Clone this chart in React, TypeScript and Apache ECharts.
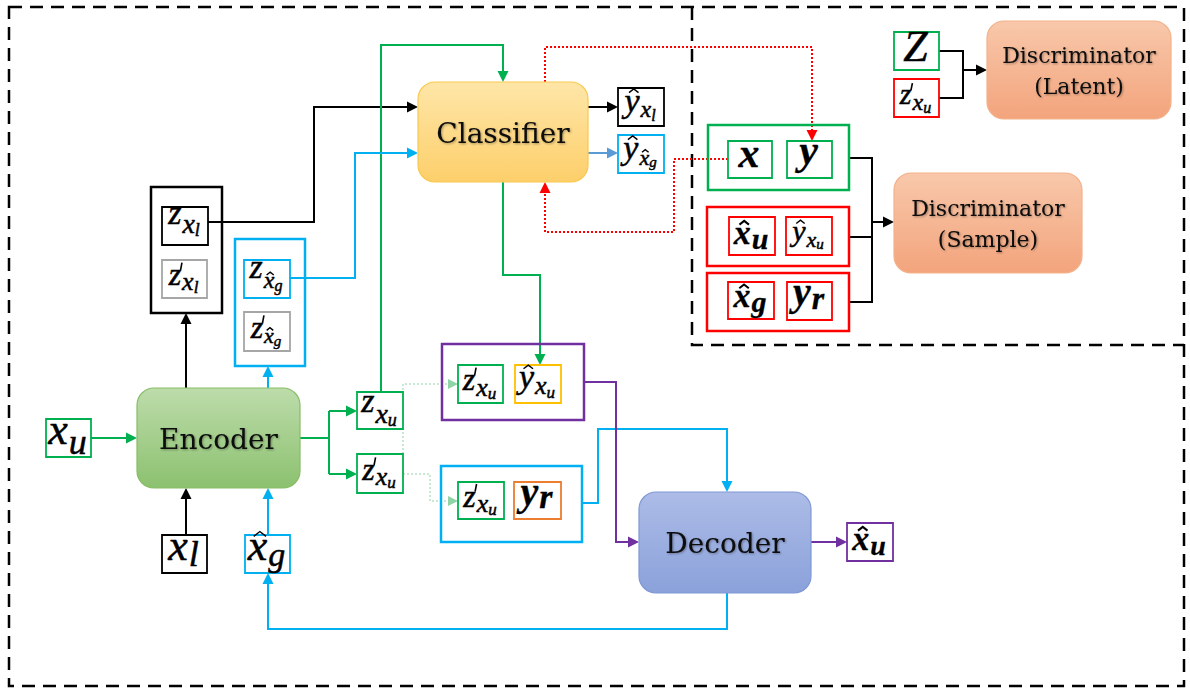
import React, { useEffect, useRef } from "react";
import * as echarts from "echarts";

// ---------- content ----------
const BLOCK_LABELS = ["Encoder", "Classifier", "Decoder", "Discriminator\n(Latent)", "Discriminator\n(Sample)"];

type Sym = {
  b: string; hat?: boolean; prime?: boolean; s?: string; sHat?: boolean; ss?: string;
  bold?: boolean; B?: number; S?: number; SS?: number; bl?: number; sd?: number;
};

// math symbols (base, hat, prime, subscript, sub-hat, sub-subscript)
const SYMBOLS: Sym[] = [
  { b: "x", s: "u", B: 44, S: 36, bl: 0.68, sd: 9 },
  { b: "x", s: "l", B: 44, S: 36, bl: 0.66, sd: 6 },
  { b: "x", hat: true, s: "g", B: 44, S: 34, bl: 0.66, sd: 6 },
  { b: "z", s: "x", ss: "l", B: 34, S: 28, SS: 18, bl: 0.45, sd: 9 },
  { b: "z", prime: true, s: "x", ss: "l", B: 32, S: 26, SS: 17, bl: 0.66, sd: 5 },
  { b: "z", s: "x", sHat: true, ss: "g", B: 34, S: 24, SS: 16, bl: 0.48, sd: 10 },
  { b: "z", prime: true, s: "x", sHat: true, ss: "g", B: 32, S: 22, SS: 15, bl: 0.66, sd: 5 },
  { b: "z", s: "x", ss: "u", B: 34, S: 28, SS: 18, bl: 0.55, sd: 11 },
  { b: "z", prime: true, s: "x", ss: "u", B: 32, S: 26, SS: 17, bl: 0.66, sd: 6 },
  { b: "z", prime: true, s: "x", ss: "u", B: 32, S: 26, SS: 17, bl: 0.66, sd: 6 },
  { b: "y", hat: true, s: "x", ss: "u", B: 34, S: 26, SS: 17, bl: 0.6, sd: 7 },
  { b: "z", prime: true, s: "x", ss: "u", B: 32, S: 26, SS: 17, bl: 0.66, sd: 6 },
  { b: "y", s: "r", bold: true, B: 40, S: 34, bl: 0.62, sd: 3 },
  { b: "y", hat: true, s: "x", ss: "l", B: 34, S: 24, SS: 16, bl: 0.62, sd: 6 },
  { b: "y", hat: true, s: "x", sHat: true, ss: "g", B: 34, S: 22, SS: 15, bl: 0.62, sd: 6 },
  { b: "x", hat: true, s: "u", bold: true, B: 34, S: 28, bl: 0.7, sd: 5 },
  { b: "x", bold: true, B: 42, bl: 0.72 },
  { b: "y", bold: true, B: 42, bl: 0.62 },
  { b: "x", hat: true, s: "u", bold: true, B: 34, S: 30, bl: 0.7, sd: 5 },
  { b: "y", hat: true, s: "x", ss: "u", B: 30, S: 22, SS: 15, bl: 0.62, sd: 6 },
  { b: "x", hat: true, s: "g", bold: true, B: 34, S: 30, bl: 0.68, sd: 5 },
  { b: "y", s: "r", bold: true, B: 40, S: 32, bl: 0.62, sd: 3 },
  { b: "Z", B: 44, bl: 0.78 },
  { b: "z", prime: true, s: "x", ss: "u", B: 30, S: 24, SS: 16, bl: 0.66, sd: 6 },
];

// ---------- layout & styles ----------
const C = {
  G: "#00b050", BL: "#00b0f0", K: "#000000", GR: "#a6a6a6", Y: "#ffc000",
  O: "#ed7d31", P: "#7030a0", R: "#ff0000", LB: "#5b9bd5",
};

const BLOCK_RECTS = [
  [137, 388, 163, 100], [418, 82, 170, 100], [639, 492, 172, 101],
  [987, 21, 184, 98], [894, 173, 188, 100],
];
const BLOCK_FILLS = [
  ["#bddcab", "#8cc16f", "#86bd66"],
  ["#fee6a8", "#fdcf6b", "#f8c94d"],
  ["#adbce7", "#8aa1da", "#7f98d4"],
  ["#f8c8ab", "#f3a47c", "#f3b18a"],
  ["#f8c8ab", "#f3a47c", "#f3b18a"],
];
const BLOCK_FONTS = [28, 28, 28, 22, 22];

const SYMBOL_BOXES: [number, number, number, number, string][] = [
  [46, 419, 45, 38, C.G], [162, 535, 45, 38, C.K], [245, 535, 45, 38, C.BL],
  [162, 207, 46, 38, C.K], [162, 260, 45, 38, C.GR], [244, 260, 46, 38, C.BL],
  [244, 312, 46, 39, C.GR], [357, 392, 46, 37, C.G], [357, 454, 46, 39, C.G],
  [458, 365, 45, 38, C.G], [515, 365, 46, 38, C.Y], [458, 482, 46, 37, C.G],
  [514, 482, 47, 37, C.O], [618, 88, 46, 38, C.K], [618, 135, 46, 38, C.BL],
  [847, 523, 46, 38, C.P], [728, 141, 44, 37, C.G], [787, 141, 45, 37, C.G],
  [729, 217, 46, 38, C.R], [786, 217, 46, 38, C.R], [728, 282, 46, 37, C.R],
  [787, 282, 45, 38, C.R], [894, 32, 45, 38, C.G], [894, 79, 45, 38, C.R],
];

const CONTAINERS: [number, number, number, number, string][] = [
  [151, 187, 71, 126, C.K], [235, 239, 70, 127, C.BL], [708, 125, 141, 65, C.G],
  [707, 207, 142, 59, C.R], [707, 273, 142, 58, C.R], [442, 344, 142, 76, C.P],
  [441, 466, 141, 76, C.BL],
];

type Conn = { p: number[][]; c: string; a?: boolean; d?: number[]; w?: number; ah?: number };
const CONNECTORS: Conn[] = [
  // black
  { p: [[186, 388], [186, 313]], c: C.K, a: true },
  { p: [[186, 535], [186, 488]], c: C.K, a: true },
  { p: [[208, 222], [314, 222], [314, 107], [418, 107]], c: C.K, a: true },
  { p: [[588, 107], [618, 107]], c: C.K, a: true },
  { p: [[849, 158], [872, 158], [872, 302], [849, 302]], c: C.K },
  { p: [[849, 237], [872, 237]], c: C.K },
  { p: [[872, 222], [894, 222]], c: C.K, a: true },
  { p: [[939, 51], [963, 51], [963, 98], [939, 98]], c: C.K },
  { p: [[963, 70], [987, 70]], c: C.K, a: true },
  // green
  { p: [[91, 438], [137, 438]], c: C.G, a: true },
  { p: [[300, 438], [329, 438]], c: C.G },
  { p: [[329, 411], [329, 474]], c: C.G },
  { p: [[329, 411], [357, 411]], c: C.G, a: true },
  { p: [[329, 474], [357, 474]], c: C.G, a: true },
  { p: [[381, 392], [381, 45], [503, 45], [503, 82]], c: C.G, a: true },
  { p: [[503, 182], [503, 275], [540, 275], [540, 365]], c: C.G, a: true },
  { p: [[403, 454], [403, 384], [458, 384]], c: "#8fd3a6", a: true, d: [2, 2], w: 1, ah: 10 },
  { p: [[403, 474], [430, 474], [430, 501], [458, 501]], c: "#8fd3a6", a: true, d: [2, 2], w: 1, ah: 10 },
  // blue
  { p: [[268, 388], [268, 366]], c: C.BL, a: true },
  { p: [[290, 278], [355, 278], [355, 153], [418, 153]], c: C.BL, a: true },
  { p: [[268, 535], [268, 488]], c: C.BL, a: true },
  { p: [[727, 593], [727, 629], [268, 629], [268, 573]], c: C.BL, a: true },
  { p: [[582, 503], [598, 503], [598, 429], [727, 429], [727, 492]], c: C.BL, a: true },
  { p: [[588, 153], [618, 153]], c: C.LB, a: true },
  // purple
  { p: [[584, 382], [616, 382], [616, 542], [639, 542]], c: C.P, a: true },
  { p: [[811, 542], [847, 542]], c: C.P, a: true },
  // red dotted
  { p: [[545, 82], [545, 47], [812, 47], [812, 141]], c: C.R, a: true, d: [2, 2] },
  { p: [[728, 159], [674, 159], [674, 232], [545, 232], [545, 182]], c: C.R, a: true, d: [2, 2] },
];

const MATH_FONT = "Liberation Serif";
const BLOCK_FONT = "DejaVu Serif";

let measureCtx: CanvasRenderingContext2D | null = null;
function tw(t: string, size: number, bold: boolean): number {
  if (!measureCtx) measureCtx = document.createElement("canvas").getContext("2d");
  if (!measureCtx) return size * 0.5;
  measureCtx.font = `italic ${bold ? "bold " : ""}${size}px "${MATH_FONT}"`;
  return measureCtx.measureText(t).width;
}

function mathText(t: string, x: number, bl: number, size: number, bold: boolean) {
  return {
    type: "text", x, y: bl - size * 0.34, silent: true,
    style: {
      text: t, fontFamily: MATH_FONT, fontStyle: "italic", fontWeight: bold ? "bold" : "normal",
      fontSize: size, fill: "#000", align: "left", verticalAlign: "middle",
      stroke: "#000", lineWidth: bold ? 0.3 : 0.5,
    },
  };
}

function hat(cx: number, bottom: number, half: number, h: number, bold: boolean) {
  return {
    type: "polyline", silent: true,
    shape: { points: [[cx - half, bottom], [cx, bottom - h], [cx + half, bottom]] },
    style: { stroke: "#000", lineWidth: bold ? 2 : 1.4, fill: null },
  };
}

function symbolEls(box: [number, number, number, number, string], m: Sym) {
  const [x, y, w, h] = box;
  const B = m.B ?? 36, S = m.S ?? 26, SS = m.SS ?? 17;
  const bold = !!m.bold;
  const bw = tw(m.b, B, bold);
  const sw = m.s ? tw(m.s, S, bold) : 0;
  const ssw = m.ss ? tw(m.ss, SS, false) : 0;
  const W = bw + sw + ssw + (m.s ? 1 : 0);
  const x0 = x + Math.max(2, (w - W) / 2) - 1;
  const bl = y + h * (m.bl ?? 0.6);
  const sbl = bl + (m.sd ?? 6);
  const ssbl = sbl + 3;
  const els: any[] = [];
  els.push(mathText(m.b, x0, bl, B, bold));
  if (m.hat) els.push(hat(x0 + bw * 0.62, bl - B * 0.47 - 3, B * 0.14, B * 0.11, bold));
  if (m.prime) {
    const px = x0 + bw * 0.95;
    els.push({
      type: "line", silent: true,
      shape: { x1: px + 1.5, y1: bl - B * 0.7, x2: px, y2: bl - B * 0.46 },
      style: { stroke: "#000", lineWidth: 1.6 },
    });
  }
  if (m.s) {
    const sx = x0 + bw + 1;
    els.push(mathText(m.s, sx, sbl, S, bold));
    if (m.sHat) els.push(hat(sx + sw * 0.6, sbl - S * 0.47 - 2, S * 0.15, S * 0.12, false));
    if (m.ss) els.push(mathText(m.ss, sx + sw, ssbl, SS, false));
  }
  return els;
}

function connectorEls(cn: Conn) {
  const w = cn.w ?? 2;
  const len = cn.ah ?? 11;
  const half = len * 0.5;
  const pts = cn.p.map((q) => [q[0], q[1]]);
  const els: any[] = [];
  let head: any = null;
  if (cn.a) {
    const tip = pts[pts.length - 1];
    const from = pts[pts.length - 2];
    const dx = tip[0] - from[0], dy = tip[1] - from[1];
    const d = Math.hypot(dx, dy) || 1;
    const ux = dx / d, uy = dy / d;
    const bx = tip[0] - ux * len, by = tip[1] - uy * len;
    head = {
      type: "polygon", silent: true,
      shape: { points: [[tip[0], tip[1]], [bx - uy * half, by + ux * half], [bx + uy * half, by - ux * half]] },
      style: { fill: cn.c, stroke: null },
    };
    pts[pts.length - 1] = [tip[0] - ux * len * 0.7, tip[1] - uy * len * 0.7];
  }
  els.push({
    type: "polyline", silent: true,
    shape: { points: pts },
    style: { stroke: cn.c, lineWidth: w, fill: null, lineDash: cn.d ?? null, lineJoin: "miter" },
  });
  if (head) els.push(head);
  return els;
}

function buildElements() {
  const els: any[] = [];
  // dashed frames
  els.push({
    type: "rect", silent: true, shape: { x: 9, y: 7, width: 1175, height: 679 },
    style: { fill: null, stroke: "#000", lineWidth: 2.5, lineDash: [13, 8] },
  });
  els.push({
    type: "polyline", silent: true, shape: { points: [[692, 7], [692, 345], [1184, 345]] },
    style: { fill: null, stroke: "#000", lineWidth: 2.5, lineDash: [13, 8] },
  });
  // connectors
  CONNECTORS.forEach((cn) => els.push(...connectorEls(cn)));
  // blocks
  BLOCK_LABELS.forEach((label, i) => {
    const [x, y, w, h] = BLOCK_RECTS[i];
    const [top, bottom, stroke] = BLOCK_FILLS[i];
    els.push({
      type: "rect", silent: true, shape: { x, y, width: w, height: h, r: 17 },
      style: {
        fill: new echarts.graphic.LinearGradient(0, 0, 0, 1, [
          { offset: 0, color: top }, { offset: 1, color: bottom },
        ]),
        stroke, lineWidth: 1.2,
      },
    });
    els.push({
      type: "text", silent: true, x: x + w / 2, y: y + h / 2 + 1,
      style: {
        text: label, fontFamily: BLOCK_FONT, fontSize: BLOCK_FONTS[i], lineHeight: BLOCK_FONTS[i] * 1.38,
        fill: "#0a0a0a", align: "center", verticalAlign: "middle",
        textShadowColor: "rgba(0,0,0,0.35)", textShadowBlur: 2, textShadowOffsetX: 1, textShadowOffsetY: 1,
      },
    });
  });
  // containers
  CONTAINERS.forEach(([x, y, w, h, c]) => {
    els.push({
      type: "rect", silent: true, shape: { x, y, width: w, height: h },
      style: { fill: null, stroke: c, lineWidth: 2.5 },
    });
  });
  // symbol boxes
  SYMBOLS.forEach((m, i) => {
    const box = SYMBOL_BOXES[i];
    const [x, y, w, h, c] = box;
    els.push({
      type: "rect", silent: true, shape: { x, y, width: w, height: h },
      style: { fill: "#fff", stroke: c, lineWidth: 1.8 },
    });
    els.push(...symbolEls(box, m));
  });
  return els;
}

export default function App() {
  const ref = useRef<HTMLDivElement>(null);
  useEffect(() => {
    document.body.style.margin = "0";
    const chart = echarts.init(ref.current as HTMLDivElement, null, { renderer: "svg" });
    chart.setOption({ animation: false, backgroundColor: "#ffffff", graphic: { elements: buildElements() } });
    return () => chart.dispose();
  }, []);
  return <div ref={ref} style={{ width: 1190, height: 688, background: "#fff" }} />;
}
